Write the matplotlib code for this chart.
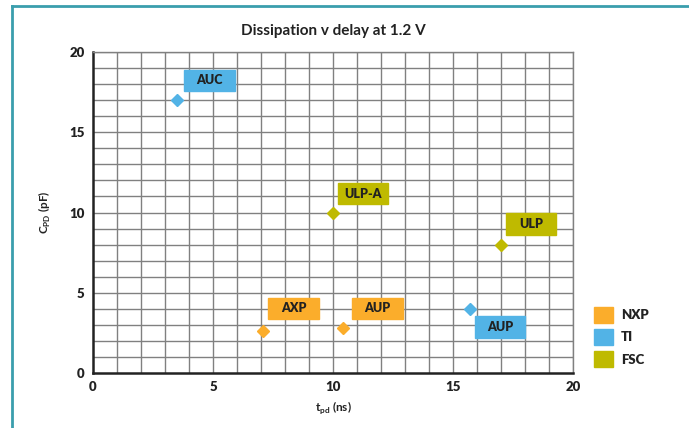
import matplotlib
matplotlib.use('Agg')
import matplotlib.pyplot as plt
from matplotlib.patches import Patch, Rectangle
from matplotlib.lines import Line2D

# データ
vendors = ['NXP', 'TI', 'FSC']
vendor_colors = {'NXP': '#fbad2b', 'TI': '#52b3e6', 'FSC': '#bfba00'}
parts = ['AUC', 'ULP-A', 'ULP', 'AXP', 'AUP', 'AUP']
part_vendor = ['TI', 'FSC', 'FSC', 'NXP', 'NXP', 'TI']
tpd = [3.5, 10.0, 17.0, 7.1, 10.4, 15.7]
cpd = [17.0, 10.0, 8.0, 2.6, 2.8, 4.0]
# ラベル箱の左下位置（データ座標）
label_x = [3.8, 10.2, 17.2, 7.3, 10.8, 15.9]
label_y = [17.55, 10.5, 8.6, 3.35, 3.35, 2.2]
box_w, box_h = 2.1, 1.35

plt.rcParams['font.family'] = ['Lato', 'DejaVu Sans']

fig = plt.figure(figsize=(6.89, 4.28), dpi=100)
ax = fig.add_axes([0.135, 0.1285, 0.697, 0.75])

ax.set_xlim(0, 20)
ax.set_ylim(0, 20)
for v in range(1, 21):
    ax.axvline(v, color='#808080', lw=1.0, zorder=1)
    ax.axhline(v, color='#808080', lw=1.0, zorder=1)
for s in ['top', 'right']:
    ax.spines[s].set_color('#808080')
    ax.spines[s].set_linewidth(1.0)
for s in ['left', 'bottom']:
    ax.spines[s].set_color('#222222')
    ax.spines[s].set_linewidth(1.8)

ax.set_xticks([0, 5, 10, 15, 20])
ax.set_yticks([0, 5, 10, 15, 20])
ax.tick_params(length=0, labelsize=9.5, pad=6)
for t in ax.get_xticklabels() + ax.get_yticklabels():
    t.set_fontweight('heavy')
    t.set_color('#222222')

for i in range(len(parts)):
    c = vendor_colors[part_vendor[i]]
    ax.plot(tpd[i], cpd[i], marker='D', ms=6, color=c, ls='none', zorder=4, clip_on=False)
    ax.add_patch(Rectangle((label_x[i], label_y[i]), box_w, box_h, color=c, zorder=5))
    ax.text(label_x[i] + box_w / 2, label_y[i] + box_h / 2, parts[i], ha='center', va='center',
            fontsize=9, fontweight='heavy', color='#222222', zorder=6)

ax.set_title('Dissipation v delay at 1.2 V', fontsize=11, fontweight='bold', color='#222222', pad=12)
ax.set_xlabel('t$_{\\mathregular{pd}}$ (ns)', fontsize=8.5, fontweight='bold', color='#222222', labelpad=4)
ax.set_ylabel('C$_{\\mathregular{PD}}$ (pF)', fontsize=8.5, fontweight='bold', color='#222222', labelpad=12)

handles = [Patch(color=vendor_colors[v], label=v) for v in vendors]
leg = fig.legend(handles=handles, loc='upper left', bbox_to_anchor=(0.862, 0.283),
                 frameon=False, fontsize=9.5, handlelength=1.45, handleheight=1.45,
                 handletextpad=0.6, labelspacing=0.5, borderaxespad=0, borderpad=0)
for t in leg.get_texts():
    t.set_fontweight('heavy')
    t.set_color('#222222')

# 外枠
fig.add_artist(Line2D([0.0180, 1.0], [0.986, 0.986], color='#3a9ead', lw=2.0, transform=fig.transFigure))
fig.add_artist(Line2D([0.0180, 0.0180], [0.986, 0.0], color='#3a9ead', lw=2.0, transform=fig.transFigure))

fig.savefig('out.png', dpi=100)
